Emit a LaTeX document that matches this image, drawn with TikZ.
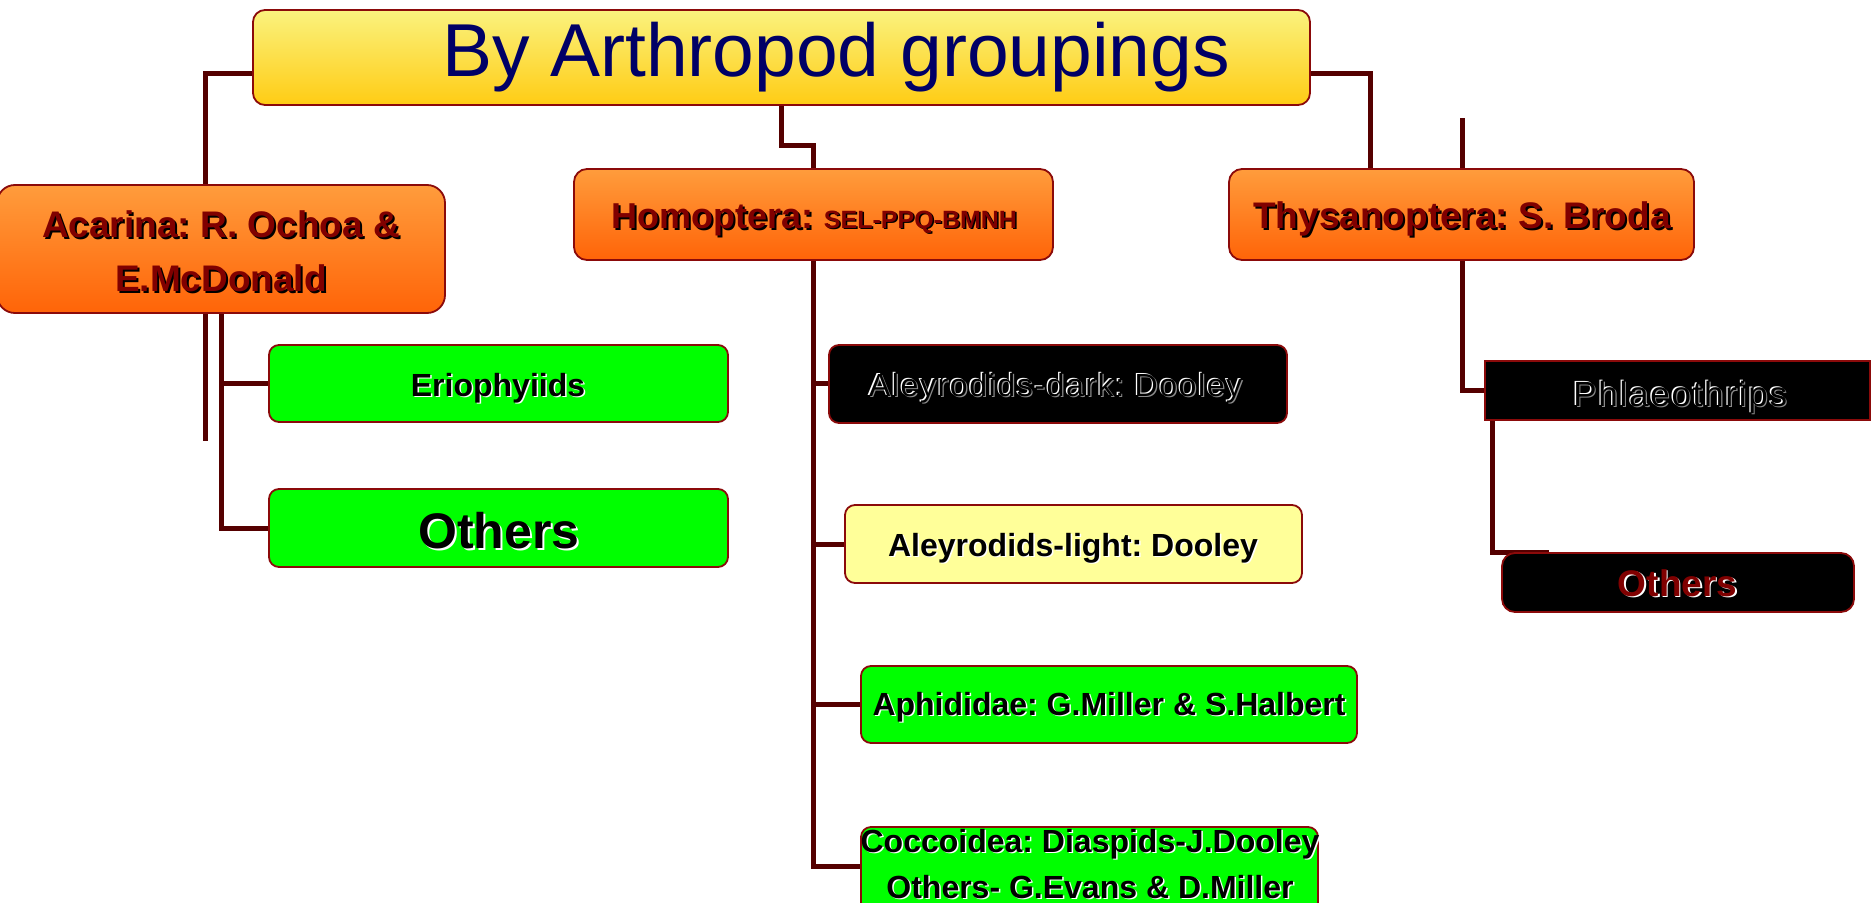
\documentclass[tikz,border=0pt]{standalone}
\usepackage{fontspec}
\setmainfont{Liberation Sans}
\newfontfamily\olfont[LetterSpace=5]{Liberation Sans}
\definecolor{connc}{HTML}{550000}
\definecolor{bord}{HTML}{8B0A0A}
\definecolor{navy}{HTML}{000066}
\definecolor{maroonc}{HTML}{800000}
\definecolor{ytop}{HTML}{FAF27E}
\definecolor{ybot}{HTML}{FFCC14}
\definecolor{otop}{HTML}{FF9C3C}
\definecolor{obot}{HTML}{FF6408}
\definecolor{lgreen}{HTML}{00FF00}
\definecolor{lyellow}{HTML}{FFFF99}
\definecolor{embgray}{HTML}{8A8A8A}
\newcommand\fs[1]{\fontsize{#1}{#1}\selectfont}
\newcommand\shadowed[4]{\rlap{\kern#3\raisebox{-#3}{\textcolor{#2}{#4}}}\textcolor{#1}{#4}}
\newcommand\outlined[1]{\rlap{\kern2.5pt\raisebox{-2.5pt}{\textcolor{embgray}{\olfont #1}}}\rlap{\textcolor{white}{\olfont #1}}\kern1.3pt\raisebox{-1pt}{\textcolor{black}{\olfont #1}}}
\tikzset{
  box/.style={draw=bord, line width=1.8pt, rounded corners=10pt, inner sep=0pt, outer sep=0pt},
  orangebox/.style={box, top color=otop, bottom color=obot, rounded corners=13pt},
  greenbox/.style={box, fill=lgreen},
  blackbox/.style={box, fill=black},
  conn/.style={draw=connc, line width=5pt},
  txt/.style={anchor=base, inner sep=0pt, outer sep=0pt, font=\frenchspacing},
}
\begin{document}
\begin{tikzpicture}[x=1pt,y=-1pt]
\clip (0,0) rectangle (1873,902);
\fill[white] (0,0) rectangle (1873,902);

% free points of connectors
\coordinate (c1) at (205,73);
\coordinate (c2a) at (781,145);
\coordinate (c2b) at (813,145);
\coordinate (c3) at (1370,73);
\coordinate (stubtop) at (1462,118);
\coordinate (straybot) at (205,441);
\coordinate (ac) at (221,528);
\coordinate (hc) at (813,866);
\coordinate (tc) at (1462,390);
\coordinate (pc1) at (1492,552);
\coordinate (pc2) at (1549,552);

% connectors (drawn first, under the boxes)
\draw[conn] (1300,73) -- (c1) -- (205,190);
\draw[conn] (781,100) -- (c2a) -- (c2b) -- (813,175);
\draw[conn] (1300,73) -- (c3) -- (1370,175);
\draw[conn] (stubtop) -- (1462,175);
\draw[conn] (205,305) -- (straybot);
\draw[conn] (221,305) -- (ac) -- (275,528);
\draw[conn] (221,383) -- (275,383);
\draw[conn] (813,255) -- (hc) -- (866,866);
\draw[conn] (813,383) -- (835,383);
\draw[conn] (813,544) -- (850,544);
\draw[conn] (813,704) -- (866,704);
\draw[conn] (1462,255) -- (tc) -- (1490,390);
\draw[conn] (1492,415) -- (pc1) -- (pc2);

% boxes
\node[box, top color=ytop, bottom color=ybot, rounded corners=12pt, minimum width=1057pt, minimum height=95pt] (title) at (781.5,57.5) {};
\node[orangebox, rounded corners=18pt, minimum width=448pt, minimum height=128pt] (acar) at (221,249) {};
\node[orangebox, minimum width=479pt, minimum height=91pt] (hom) at (813.5,214.5) {};
\node[orangebox, minimum width=465pt, minimum height=91pt] (thy) at (1461.5,214.5) {};
\node[greenbox, minimum width=459pt, minimum height=77pt] (erio) at (498.5,383.5) {};
\node[greenbox, minimum width=459pt, minimum height=78pt] (othL) at (498.5,528) {};
\node[blackbox, minimum width=458pt, minimum height=78pt] (ald) at (1058,384) {};
\node[box, fill=lyellow, minimum width=457pt, minimum height=78pt] (all) at (1073.5,544) {};
\node[greenbox, minimum width=496pt, minimum height=77pt] (aph) at (1109,704.5) {};
\node[greenbox, minimum width=457pt, minimum height=113pt] (cocc) at (1089.5,883.5) {};
\node[blackbox, rounded corners=0pt, minimum width=385pt, minimum height=59pt] (phl) at (1677.5,390.5) {};
\node[blackbox, rounded corners=13pt, minimum width=352pt, minimum height=59pt] (othR) at (1678,582.5) {};

% texts
\node[txt, text=navy] (titleT) at (836,76) {\fs{75}By Arthropod groupings};
\node[txt] (acarT1) at (221,237) {\fs{37}\bfseries\shadowed{maroonc}{black}{2pt}{Acarina: R. Ochoa \&}};
\node[txt] (acarT2) at (221,291) {\fs{37}\bfseries\shadowed{maroonc}{black}{2pt}{E.McDonald}};
\node[txt] (homT) at (814.5,228) {\bfseries\fs{36}\shadowed{maroonc}{black}{2pt}{Homoptera:} \fs{25}\shadowed{maroonc}{black}{1.5pt}{SEL-PPQ-BMNH}};
\node[txt] (thyT) at (1462,228) {\fs{37}\bfseries\shadowed{maroonc}{black}{2pt}{Thysanoptera: S. Broda}};
\node[txt] (erioT) at (498,396) {\fs{32}\bfseries\shadowed{black}{white}{1.5pt}{Eriophyiids}};
\node[txt] (othLT) at (499,548) {\fs{50}\bfseries\shadowed{black}{white}{2pt}{Others}};
\node[txt] (aldT) at (1055,395) {\fs{32}\outlined{Aleyrodids-dark: Dooley}};
\node[txt] (allT) at (1073,556) {\fs{32}\bfseries\shadowed{black}{white}{1.5pt}{Aleyrodids-light: Dooley}};
\node[txt] (aphT) at (1109,715) {\fs{32}\bfseries\shadowed{black}{white}{1.5pt}{Aphididae: G.Miller \& S.Halbert}};
\node[txt] (coccT1) at (1090,852) {\fs{32}\bfseries\shadowed{black}{white}{1.5pt}{Coccoidea: Diaspids-J.Dooley}};
\node[txt] (coccT2) at (1090,898) {\fs{32}\bfseries\shadowed{black}{white}{1.5pt}{Others- G.Evans \& D.Miller}};
\node[txt] (phlT) at (1679.5,405) {\fs{35}\outlined{Phlaeothrips}};
\node[txt] (othRT) at (1677.5,596) {\fs{37}\bfseries\shadowed{maroonc}{white}{1.5pt}{Others}};
\end{tikzpicture}
\end{document}
